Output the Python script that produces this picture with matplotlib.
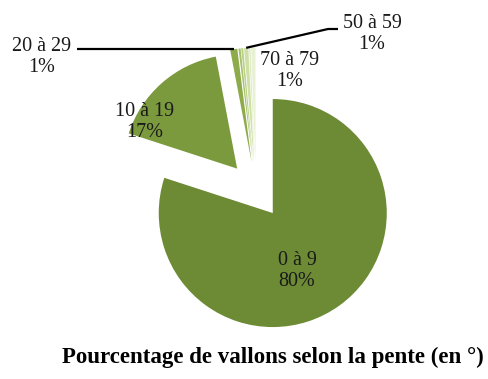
import matplotlib.pyplot as plt
import numpy as np

# Slope classes (degrees) and share of valleys (%)
classes = ["0 à 9", "10 à 19", "20 à 29", "30 à 39", "40 à 49",
           "50 à 59", "60 à 69", "70 à 79"]
shares = [80.0, 17.0, 1.0, 0.3, 0.3, 0.6, 0.2, 0.6]
labelled = ["0 à 9", "10 à 19", "20 à 29", "50 à 59", "70 à 79"]

colors = ["#6d8a35", "#7b9a3e", "#8dab4a", "#a7c26a", "#bcd28a",
          "#cfe0a6", "#dde9bf", "#e9f1d4"]

W, H, DPI = 488, 379, 100
R_PX = 114          # pie radius in pixels
CX, CY = 256, 190   # pie centre in pixels (from top-left)


def px(x, y):
    """Pixel position (from top-left) -> data coordinates."""
    return (x - CX) / R_PX, (CY - y) / R_PX


plt.rcParams["font.family"] = ["Liberation Serif", "DejaVu Serif"]

fig = plt.figure(figsize=(W / DPI, H / DPI), dpi=DPI)
ax = fig.add_axes([0, 0, 1, 1])

wedges, _ = ax.pie(shares, colors=colors, startangle=90, counterclock=False,
                   explode=[0.25] * len(shares), radius=1,
                   wedgeprops=dict(linewidth=0))

ax.set_xlim(-CX / R_PX, (W - CX) / R_PX)
ax.set_ylim(-(H - CY) / R_PX, CY / R_PX)
ax.set_aspect("equal")
ax.axis("off")


def arc_point(w):
    mid = np.deg2rad((w.theta1 + w.theta2) / 2)
    cx, cy = w.center
    return cx + w.r * np.cos(mid), cy + w.r * np.sin(mid)


# label placement (pixels) and leader start points (None y = level with slice)
label_pos = {
    "0 à 9": (297, 271),
    "10 à 19": (145, 122),
    "20 à 29": (42, 57),
    "50 à 59": (372, 34),
    "70 à 79": (290, 71),
}
leaders = {
    "20 à 29": [(77, None)],
    "50 à 59": [(338, 29), (328, 29)],
}

for name, val, w in zip(classes, shares, wedges):
    if name not in labelled:
        continue
    lx, ly = px(*label_pos[name])
    ax.text(lx, ly, f"{name}\n{round(val):.0f}%", ha="center", va="center",
            fontsize=14.5, color="#1a1a1a", linespacing=1.15)
    if name in leaders:
        end = arc_point(w)
        pts = []
        for x, y in leaders[name]:
            if y is None:
                pts.append((px(x, 0)[0], end[1]))
            else:
                pts.append(px(x, y))
        pts.append(end)
        xs, ys = zip(*pts)
        ax.plot(xs, ys, color="black", linewidth=1.6, solid_capstyle="butt")

fig.text(273 / W, 1 - 357 / H, "Pourcentage de vallons selon la pente (en °)",
         ha="center", va="center", fontsize=16.5, fontweight="bold")

fig.savefig("out.png", dpi=DPI)
